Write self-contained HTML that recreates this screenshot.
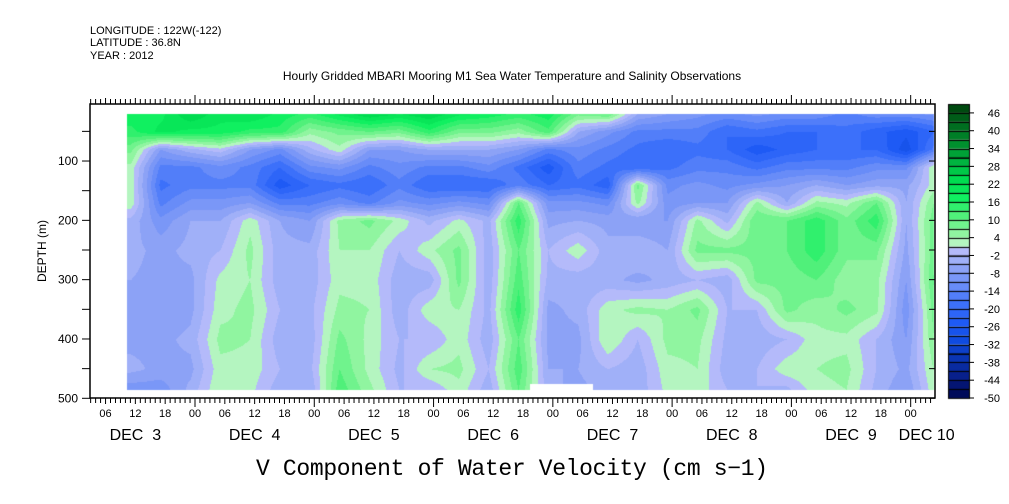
<!DOCTYPE html>
<html><head><meta charset="utf-8">
<style>
html,body{margin:0;padding:0;background:#fff;width:1009px;height:504px;overflow:hidden;font-family:"Liberation Sans",sans-serif;}
#wrap{position:relative;width:1009px;height:504px;}
canvas{position:absolute;left:0;top:0;}
svg{position:absolute;left:0;top:0;}
</style></head>
<body>
<div id="wrap">
<canvas id="hm" width="1009" height="504"></canvas>
<svg id="ax" width="1009" height="504">
<g font-family="Liberation Sans, sans-serif" font-size="11" fill="#000">
<text x="90" y="34">LONGITUDE : 122W(-122)</text>
<text x="90" y="46">LATITUDE : 36.8N</text>
<text x="90" y="59">YEAR : 2012</text>
<text x="512" y="80" text-anchor="middle" font-size="12">Hourly Gridded MBARI Mooring M1 Sea Water Temperature and Salinity Observations</text>
<text x="512" y="475" text-anchor="middle" font-size="23" font-family="Liberation Mono, monospace" textLength="512">V Component of Water Velocity (cm s−1)</text>
<text transform="translate(46,251) rotate(-90)" text-anchor="middle" font-size="12">DEPTH (m)</text>
</g>
</svg>
</div>
<script>
// Grid data (cm/s): columns every 6 hours starting Dec 3 11:00, rows at depths
const depths=[20,50,80,110,140,170,200,250,300,350,400,450,485];
const colStartHour=11; // hours after Dec 3 00:00
const colStepHours=6;
const values=[
[18,15,8,3,3,3,-3,-4,-5,-6,-6,-4,-10],
[18,20,-8,-15,-18,-15,-10,-6,-6,-8,-6,-6,-10],
[25,18,-3,-15,-15,-10,-5,-4,-6,-6,-4,-6,-4],
[20,18,0,-12,-15,-10,-5,-2,2,3,5,3,4],
[22,15,-8,-15,-15,-8,3,5,4,5,4,3,2],
[18,15,-12,-20,-25,-15,-5,-4,-4,-2,-4,-2,-4],
[15,5,-3,-12,-20,-15,-8,-4,-4,-3,-4,-3,-5],
[20,8,3,-10,-18,-12,5,4,3,5,8,10,12],
[25,10,-8,-15,-20,-15,8,4,3,4,3,3,5],
[22,8,-8,-12,-15,-10,3,-2,-4,-4,-2,-3,-2],
[25,15,-5,-15,-20,-12,-3,3,-4,3,-2,4,-2],
[20,8,-5,-15,-20,-10,2,8,8,4,3,5,3],
[18,8,-5,-12,-20,-12,-3,-4,-4,-3,-4,-2,-4],
[15,5,-8,-18,-15,10,15,10,12,15,10,12,10],
[18,12,-15,-25,-20,-10,-6,-2,-3,-6,-6,-5,-4],
[8,-5,-12,-15,-18,-10,-5,3,-4,-4,-6,-5,-6],
[10,-10,-15,-18,-22,-12,-6,-4,-4,3,4,-2,-4],
[-5,-15,-18,-20,8,5,-8,-2,-6,5,-2,-4,-4],
[-8,-15,-20,-18,-12,-10,-8,-5,-4,4,5,3,2],
[-10,-15,-18,-15,-10,-8,5,8,-2,8,5,4,3],
[-12,-20,-20,-15,-12,-8,-3,8,-4,-2,-3,-4,-2],
[-10,-18,-25,-18,-10,5,10,8,8,-2,-4,-2,-2],
[-12,-20,-22,-15,-8,-5,10,10,8,8,-2,3,-3],
[-12,-20,-20,-15,-5,5,15,15,10,5,3,4,3],
[-15,-18,-20,-15,-8,3,8,8,5,8,3,5,4],
[-12,-22,-20,-12,-6,10,15,8,5,5,-2,-2,-3],
[-12,-25,-28,-12,-6,-5,-5,-6,-8,-10,-8,-6,-8],
[-10,-20,-15,5,3,8,10,10,12,10,8,5,4]
];
const colorLevels=[-50,-47,-44,-41,-38,-35,-32,-29,-26,-23,-20,-17,-14,-11,-8,-5,-2,1,4,7,10,13,16,19,22,25,28,31,34,37,40,43,46];
const yTicks=[100,200,300,400,500];
const dayLabels=["DEC  3","DEC  4","DEC  5","DEC  6","DEC  7","DEC  8","DEC  9","DEC 10"];
const hourLabels=["06","12","18","00"];
const cbLabels=[46,40,34,28,22,16,10,4,-2,-8,-14,-20,-26,-32,-38,-44,-50];

const PL=90,PR=935,PT=104,PB=398;
const X0=195-24*4.97;
const PXH=4.97;
function xOfHour(h){return X0+h*PXH;}
function yOfDepth(d){return 101.7+d*0.5932;}

const anchors=[[-50,[0,10,90]],[-44,[8,32,140]],[-38,[10,53,180]],[-32,[15,75,224]],[-26,[30,90,245]],[-20,[60,112,250]],[-14,[104,140,248]],[-8,[140,162,246]],[-5,[160,176,248]],[-2,[180,186,250]],[1,[180,245,192]],[4,[144,245,160]],[10,[80,240,122]],[16,[16,240,96]],[22,[0,220,80]],[28,[0,180,64]],[34,[0,144,46]],[40,[0,110,32]],[46,[0,74,16]]];
function colorFor(v){
  let lv=colorLevels[0];
  for(const l of colorLevels){if(v>=l)lv=l;}
  let c=anchors[0][1];
  for(let i=0;i<anchors.length-1;i++){
    const a=anchors[i],b=anchors[i+1];
    if(lv>=a[0]&&lv<=b[0]){const t=(lv-a[0])/(b[0]-a[0]);c=a[1].map((x,k)=>Math.round(x+(b[1][k]-x)*t));break;}
    if(lv>b[0])c=b[1];
  }
  return c;
}
function sample(h,d){
  const ncol=values.length;
  let fc=(h-colStartHour)/colStepHours; fc=Math.max(0,Math.min(ncol-1,fc));
  const c0=Math.min(ncol-2,Math.floor(fc)),tc=fc-c0;
  let r0=0;
  while(r0<depths.length-2&&d>depths[r0+1])r0++;
  let tr=(d-depths[r0])/(depths[r0+1]-depths[r0]);tr=Math.max(0,Math.min(1,tr));
  const a=values[c0][r0]*(1-tr)+values[c0][r0+1]*tr;
  const b=values[c0+1][r0]*(1-tr)+values[c0+1][r0+1]*tr;
  return a*(1-tc)+b*tc;
}
const cv=document.getElementById('hm'),ctx=cv.getContext('2d');
const img=ctx.createImageData(1009,504);
const hStart=colStartHour,hEnd=colStartHour+colStepHours*(values.length-1)+1;
const dStart=20,dEnd=485;
for(let y=0;y<504;y++){for(let x=0;x<1009;x++){
  const h=(x-X0)/PXH,d=(y-101.7)/0.5932;
  const k=(y*1009+x)*4;
  if(h>=hStart-0.8&&h<=hEnd&&d>=dStart&&d<=dEnd&&x<PR-1){
    const c=colorFor(sample(h,d));img.data[k]=c[0];img.data[k+1]=c[1];img.data[k+2]=c[2];img.data[k+3]=255;
  }
}}
ctx.putImageData(img,0,0);
ctx.fillStyle="#fff";ctx.fillRect(530,384,63,6);
const CBX=948,CBW=21,CBT=104,CBB=398,bh=(CBB-CBT)/colorLevels.length;
for(let i=0;i<colorLevels.length;i++){
  const c=colorFor(colorLevels[i]);ctx.fillStyle=`rgb(${c[0]},${c[1]},${c[2]})`;
  const y=CBB-(i+1)*bh;ctx.fillRect(CBX,y,CBW,bh);ctx.strokeStyle="#000";ctx.lineWidth=1;ctx.strokeRect(CBX+0.5,Math.round(y)+0.5,CBW,bh);
}

const svg=document.getElementById('ax');const NS="http://www.w3.org/2000/svg";
function el(tag,attrs,parent){const e=document.createElementNS(NS,tag);for(const k in attrs)e.setAttribute(k,attrs[k]);(parent||svg).appendChild(e);return e;}
const frame=el('rect',{x:PL,y:PT,width:PR-PL,height:PB-PT,fill:'none',stroke:'#000','stroke-width':1.5});


const tg=el('g',{stroke:'#000','stroke-width':1});


for(let h=3;h<=24*7+5;h++){
  const x=xOfHour(h);if(x<PL||x>PR)continue;
  const len=(h%24===0)?9:(h%6===0?6:5);
  el('line',{x1:x,x2:x,y1:PB,y2:PB+len},tg);el('line',{x1:x,x2:x,y1:PT,y2:PT-len},tg);
}
for(let d=50;d<=500;d+=50){
  const y=yOfDepth(d);if(y<PT)continue;
  el('line',{x1:PL-8,x2:PL,y1:y,y2:y},tg);el('line',{x1:PR,x2:PR-6,y1:y,y2:y},tg);
}
const lg=el('g',{'font-family':'Liberation Sans, sans-serif','font-size':12,fill:'#000'});


yTicks.forEach(d=>{const t=el('text',{x:PL-12,y:yOfDepth(d)+4,'text-anchor':'end'},lg);t.textContent=d;

});
for(let h=6;h<=24*7;h+=6){
  const x=xOfHour(h);if(x>PR)break;
  const t=el('text',{x:x,y:417,'text-anchor':'middle','font-size':11},lg);t.textContent=hourLabels[(h/6-1)%4];
  
  
}
dayLabels.forEach((s,i)=>{
  const x=i<7?xOfHour(i*24+12):xOfHour(7*24)+16;
  const t=el('text',{x:x,y:440,'text-anchor':'middle','font-size':16},lg);t.textContent=s;t.style.whiteSpace='pre';
  
  
});
cbLabels.forEach(v=>{
  const i=colorLevels.indexOf(v);const y=CBB-i*bh;
  el('line',{x1:CBX+CBW,x2:CBX+CBW+5,y1:y,y2:y,stroke:'#000'},lg);
  const t=el('text',{x:1000,y:y+4,'text-anchor':'end','font-size':11},lg);t.textContent=v;
  
  
});
</script>
</body></html>
